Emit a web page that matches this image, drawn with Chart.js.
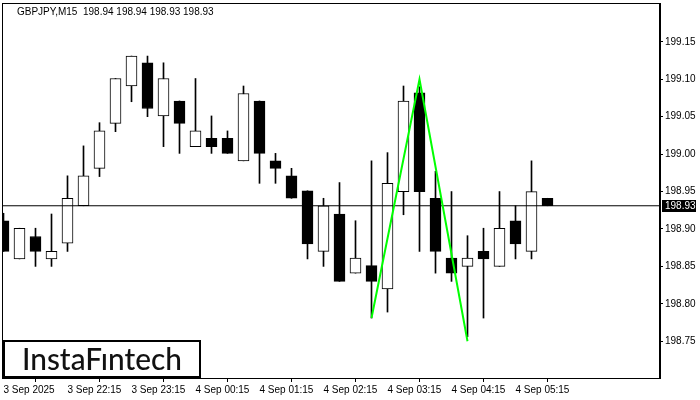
<!DOCTYPE html>
<html>
<head>
<meta charset="utf-8">
<script src="https://cdn.jsdelivr.net/npm/chart.js@4.4.0/dist/chart.umd.min.js"></script>
<style>
  html, body { margin: 0; padding: 0; background: #fff; }
  #wrap { width: 700px; height: 400px; }
</style>
</head>
<body>
<div id="wrap"><canvas id="chart" width="700" height="400"></canvas></div>
<script>
// GBPJPY M15 candles, 3 Sep 21:15 -> 4 Sep 05:45
const symbol = "GBPJPY,M15";
const opens  = [198.911, 198.860, 198.890, 198.860, 198.881, 198.931, 198.981, 199.041, 199.091, 199.122,
                199.051, 199.071, 199.010, 199.021, 199.021, 198.991, 199.071, 198.991, 198.971, 198.951,
                198.870, 198.920, 198.841, 198.851, 198.820, 198.950, 199.082, 198.941, 198.861, 198.850,
                198.870, 198.850, 198.911, 198.870, 198.941];
const highs  = [198.921, 198.901, 198.901, 198.920, 198.971, 199.011, 199.042, 199.101, 199.131, 199.131,
                199.122, 199.071, 199.101, 199.051, 199.031, 199.091, 199.071, 199.001, 198.981, 198.951,
                198.941, 198.962, 198.911, 198.991, 199.002, 199.091, 199.090, 198.977, 198.950, 198.891,
                198.901, 198.950, 198.931, 198.991, 198.941];
const lows   = [198.870, 198.860, 198.850, 198.850, 198.870, 198.931, 198.970, 199.030, 199.070, 199.050,
                199.010, 199.001, 199.010, 199.001, 199.001, 198.991, 198.961, 198.961, 198.941, 198.860,
                198.850, 198.830, 198.841, 198.781, 198.789, 198.919, 198.870, 198.841, 198.830, 198.756,
                198.781, 198.850, 198.860, 198.860, 198.931];
const closes = [198.870, 198.901, 198.870, 198.870, 198.941, 198.971, 199.031, 199.101, 199.131, 199.061,
                199.101, 199.041, 199.031, 199.010, 199.001, 199.081, 199.001, 198.981, 198.941, 198.880,
                198.931, 198.830, 198.861, 198.830, 198.961, 199.071, 198.950, 198.870, 198.841, 198.861,
                198.860, 198.901, 198.880, 198.950, 198.931];

// pattern (green) pivot points: bar index and price
const patternIdx   = [23, 26, 29];
const patternPrice = [198.781, 199.100, 198.750];

const timeTickIdx = [0, 4, 8, 12, 16, 20, 24, 28, 32];
const timeLabels  = ["3 Sep 2025", "3 Sep 22:15", "3 Sep 23:15", "4 Sep 00:15", "4 Sep 01:15",
                     "4 Sep 02:15", "4 Sep 03:15", "4 Sep 04:15", "4 Sep 05:15"];
const priceTicks  = [198.75, 198.80, 198.85, 198.90, 198.95, 199.00, 199.05, 199.10, 199.15];

const xMin = -0.09375, xMax = 41.03125;
const yMin = 198.7009, yMax = 199.2019;

const last = opens.length - 1;
const lastClose = closes[last];

Chart.defaults.font.family = "'Liberation Sans', Arial, sans-serif";
Chart.defaults.font.size = 10;
Chart.defaults.color = "#000";

const bodies = opens.map((o, i) => ({ x: i, y: [o, closes[i]] }));
const wicks = lows.map((l, i) => ({ x: i, y: [l, highs[i]] }));
const pattern = patternIdx.map((k, i) => ({ x: k, y: patternPrice[i] }));

const decorPlugin = {
  id: "decor",
  afterDraw(chart) {
    const ctx = chart.ctx;
    const a = chart.chartArea;
    ctx.save();
    // frame
    ctx.strokeStyle = "#000";
    ctx.lineWidth = 1;
    ctx.strokeRect(a.left + 0.5, a.top + 0.5, a.right - a.left - 1, a.bottom - a.top);

    // header text
    const f = v => v.toFixed(2);
    ctx.fillStyle = "#000";
    ctx.font = "10px 'Liberation Sans', Arial, sans-serif";
    ctx.textBaseline = "middle";
    ctx.textAlign = "left";
    ctx.fillText(symbol + "  " + f(opens[last]) + " " + f(highs[last]) + " " + f(lows[last]) + " " + f(closes[last]), 17, 12);

    // current price tag on the right axis
    const py = Math.round(chart.scales.y.getPixelForValue(lastClose));
    ctx.fillStyle = "#000";
    ctx.fillRect(a.right + 2, py - 6, 34, 12);
    ctx.fillStyle = "#fff";
    ctx.fillText(f(lastClose), a.right + 5, py + 0.5);

    // logo box
    ctx.fillStyle = "#fff";
    ctx.fillRect(3, 340, 198, 38);
    ctx.strokeStyle = "#000";
    ctx.lineWidth = 2;
    ctx.strokeRect(4, 341, 196, 36);
    let size = 28;
    ctx.font = "500 " + size + "px Lato, 'Noto Sans', sans-serif";
    const w = ctx.measureText("InstaFıntech").width;
    size = size * 160 / w;
    ctx.font = "500 " + size.toFixed(1) + "px Lato, 'Noto Sans', sans-serif";
    ctx.fillStyle = "#111";
    ctx.textAlign = "center";
    ctx.fillText("InstaFıntech", 102, 360);
    ctx.restore();
  }
};

new Chart(document.getElementById("chart"), {
  type: "bar",
  data: {
    datasets: [
      {
        type: "line",
        data: pattern,
        borderColor: "#00ff00",
        borderWidth: 2,
        pointRadius: 0,
        tension: 0,
        order: 0
      },
      {
        type: "line",
        data: [{ x: xMin, y: lastClose }, { x: xMax, y: lastClose }],
        borderColor: "#000",
        borderWidth: 1,
        pointRadius: 0,
        order: 1
      },
      {
        data: bodies,
        backgroundColor: bodies.map(d => d.y[1] >= d.y[0] ? "#fff" : "#000"),
        borderColor: "#000",
        borderWidth: 1,
        borderSkipped: false,
        barThickness: 11,
        grouped: false,
        order: 2
      },
      {
        data: wicks,
        backgroundColor: "#000",
        borderWidth: 0,
        barThickness: 1,
        grouped: false,
        order: 3
      }
    ]
  },
  options: {
    responsive: false,
    animation: false,
    devicePixelRatio: 1,
    layout: { padding: { left: 2, top: 3, right: 0, bottom: 0 } },
    plugins: { legend: { display: false }, tooltip: { enabled: false }, title: { display: false } },
    scales: {
      x: {
        type: "linear",
        min: xMin,
        max: xMax,
        offset: false,
        afterBuildTicks: s => { s.ticks = timeTickIdx.map(v => ({ value: v })); },
        afterFit: s => { s.height = 22; s.paddingLeft = 0; s.paddingRight = 0; },
        ticks: {
          autoSkip: false,
          maxRotation: 0,
          align: "start",
          padding: 2,
          callback: v => timeLabels[timeTickIdx.indexOf(v)]
        },
        grid: { drawOnChartArea: false, drawTicks: true, tickLength: 4, color: "#000" },
        border: { display: true, color: "#000" }
      },
      y: {
        position: "right",
        min: yMin,
        max: yMax,
        afterBuildTicks: s => { s.ticks = priceTicks.map(v => ({ value: v })); },
        afterFit: s => { s.width = 40; s.paddingTop = 0; s.paddingBottom = 0; },
        ticks: { padding: 2, callback: v => v.toFixed(2) },
        grid: { drawOnChartArea: false, drawTicks: true, tickLength: 3, color: "#000" },
        border: { display: true, color: "#000" }
      }
    }
  },
  plugins: [decorPlugin]
});
</script>
</body>
</html>
